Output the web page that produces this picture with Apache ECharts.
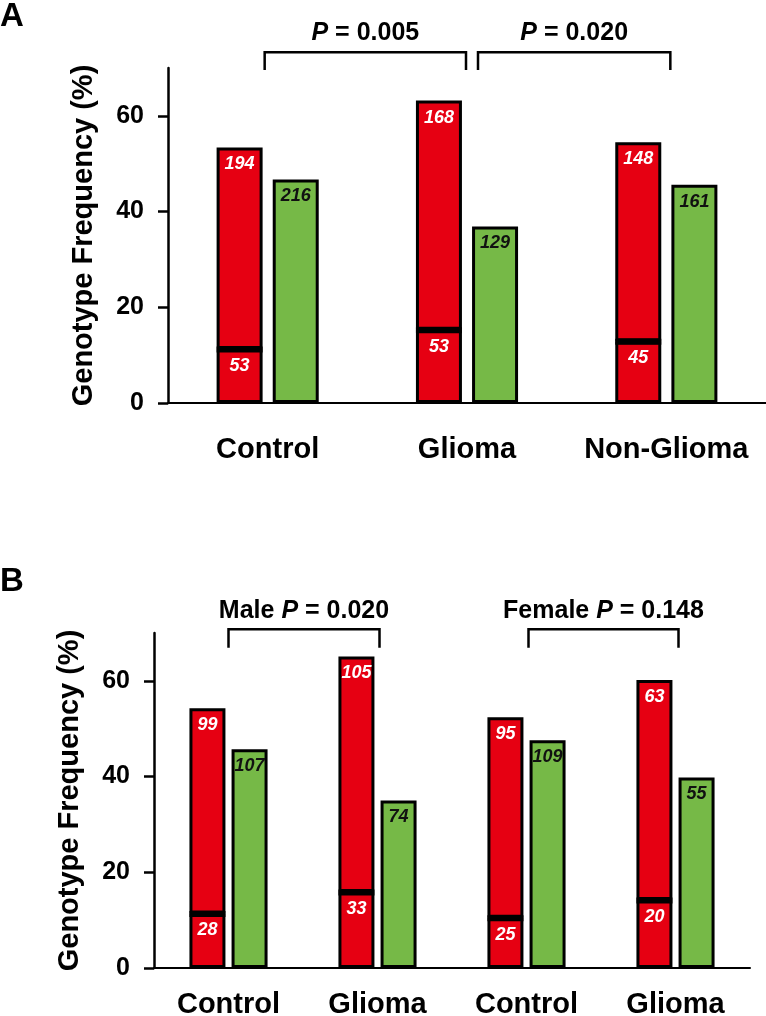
<!DOCTYPE html>
<html>
<head>
<meta charset="utf-8">
<script src="https://cdn.jsdelivr.net/npm/echarts@6/dist/echarts.min.js"></script>
<style>
  html, body { margin: 0; padding: 0; background: #fff; }
  #chart { width: 766px; height: 1016px; }
</style>
</head>
<body>
<div id="chart"></div>
<script>
const FONT = '"Liberation Sans", Arial, sans-serif';
const RED = '#e60012';
const GREEN = '#76b947';

// panel A
const aCategories = ['Control', 'Glioma', 'Non-Glioma'];
const aRedTotal = [53.4, 63.2, 54.5];
const aRedLow = [11.3, 15.3, 12.9];
const aGreen = [46.7, 36.9, 45.6];
const aLowN = [53, 53, 45];
const aHighN = [194, 168, 148];
const aGreenN = [216, 129, 161];

// panel B
const bCategories = ['Control', 'Glioma', 'Control', 'Glioma'];
const bRedTotal = [54.3, 65.1, 52.4, 60.2];
const bRedLow = [11.4, 15.9, 10.5, 14.2];
const bGreen = [45.7, 35.0, 47.6, 39.8];
const bLowN = [28, 33, 25, 20];
const bHighN = [99, 105, 95, 63];
const bGreenN = [107, 74, 109, 55];

const yTicks = [0, 20, 40, 60];

function barLabel(counts, color) {
  return {
    show: true,
    position: 'insideTop',
    distance: 8,
    color: color,
    fontSize: 18,
    fontWeight: 'bold',
    fontStyle: 'italic',
    fontFamily: FONT,
    formatter: (p) => String(counts[p.dataIndex])
  };
}

function panelSeries(idx, redLow, redTotal, green, lowN, highN, greenN, width, gap) {
  const base = {
    type: 'bar', xAxisIndex: idx, yAxisIndex: idx,
    barWidth: width, barGap: gap * 100 + '%', animation: false
  };
  const border = { borderColor: '#000', borderWidth: 3 };
  return [
    { ...base, stack: 'red' + idx, data: redLow,
      itemStyle: { color: RED, ...border }, label: barLabel(lowN, '#fff') },
    { ...base, stack: 'red' + idx, data: redTotal.map((v, i) => +(v - redLow[i]).toFixed(1)),
      itemStyle: { color: RED, ...border }, label: barLabel(highN, '#fff') },
    { ...base, stack: 'green' + idx, data: green,
      itemStyle: { color: GREEN, ...border }, label: barLabel(greenN, '#111') },
    // thick black divider between the two red segments
    {
      type: 'custom', xAxisIndex: idx, yAxisIndex: idx, z: 3, animation: false,
      data: redLow.map((v, i) => [i, v]),
      renderItem: (params, api) => {
        const p = api.coord([api.value(0), api.value(1)]);
        const cx = p[0] - width * (1 + gap) / 2;
        return {
          type: 'rect',
          shape: { x: cx - width / 2, y: p[1] - 2.5, width: width, height: 6 },
          style: { fill: '#000' }
        };
      }
    }
  ];
}

function xAxis(idx, data, margin) {
  return {
    type: 'category', gridIndex: idx, data: data,
    axisTick: { show: false },
    axisLine: { lineStyle: { color: '#000', width: 2 } },
    axisLabel: {
      interval: 0, hideOverlap: false,
      color: '#000', fontSize: 29, fontWeight: 'bold', fontFamily: FONT, margin: margin
    }
  };
}

function yAxis(idx) {
  return {
    type: 'value', gridIndex: idx, min: 0, max: 70, interval: 20,
    name: 'Genotype Frequency (%)',
    nameLocation: 'middle',
    nameGap: 70,
    nameTextStyle: { color: '#000', fontSize: 29, fontWeight: 'bold', fontFamily: FONT },
    splitLine: { show: false },
    axisLine: { show: true, lineStyle: { color: '#000', width: 2.5 } },
    axisTick: { show: true, length: 10, customValues: yTicks, lineStyle: { color: '#000', width: 2.5 } },
    axisLabel: { color: '#000', fontSize: 25, fontWeight: 'bold', fontFamily: FONT, margin: 24, customValues: yTicks }
  };
}

const option = {
  animation: false,
  textStyle: { fontFamily: FONT },
  grid: [
    { left: 168, top: 68, width: 598, height: 335, outerBoundsMode: 'none' },
    { left: 154, top: 633, width: 596, height: 335, outerBoundsMode: 'none' }
  ],
  xAxis: [xAxis(0, aCategories, 32), xAxis(1, bCategories, 22)],
  yAxis: [yAxis(0), yAxis(1)],
  series: [
    ...panelSeries(0, aRedLow, aRedTotal, aGreen, aLowN, aHighN, aGreenN, 46, 0.22),
    ...panelSeries(1, bRedLow, bRedTotal, bGreen, bLowN, bHighN, bGreenN, 36, 0.17)
  ]
};

const chart = echarts.init(document.getElementById('chart'));
chart.setOption(option);

const px = (g, cat, v) => chart.convertToPixel({ gridIndex: g }, [cat, v]);

function bracket(g, c1, c2, dx1, dx2, yTop, yLeg, yText, label) {
  const x1 = px(g, c1, yTop)[0] + dx1;
  const x2 = px(g, c2, yTop)[0] + dx2;
  const top = px(g, c1, yTop)[1];
  const leg = px(g, c1, yLeg)[1];
  const ty = px(g, c1, yText)[1];
  return [
    {
      type: 'polyline',
      shape: { points: [[x1, leg], [x1, top], [x2, top], [x2, leg]] },
      style: { stroke: '#000', lineWidth: 2.5, fill: null }
    },
    {
      type: 'text',
      x: (x1 + x2) / 2, y: ty,
      style: {
        text: label,
        align: 'center', verticalAlign: 'middle',
        fontSize: 25, fontWeight: 'bold', fontFamily: FONT, fill: '#000',
        rich: {
          i: { fontSize: 25, fontWeight: 'bold', fontStyle: 'italic', fontFamily: FONT, fill: '#000' },
          n: { fontSize: 25, fontWeight: 'bold', fontFamily: FONT, fill: '#000' }
        }
      }
    }
  ];
}

const panelLetter = (t, top) => ({
  type: 'text', left: 0, top: top,
  style: { text: t, fontSize: 33, fontWeight: 'bold', fontFamily: FONT, fill: '#000' }
});

chart.setOption({
  graphic: [
    panelLetter('A', 0),
    panelLetter('B', 565),
    ...bracket(0, 0, 1, -3, -1, 73.3, 69.6, 77.3, '{i|P}{n| = 0.005}'),
    ...bracket(0, 1, 2, 11, 4, 73.3, 69.6, 77.3, '{i|P}{n| = 0.020}'),
    ...bracket(1, 0, 1, 0, 2, 70.8, 66.9, 74.6, '{n|Male }{i|P}{n| = 0.020}'),
    ...bracket(1, 2, 3, 2, 3, 70.8, 66.9, 74.6, '{n|Female }{i|P}{n| = 0.148}')
  ]
});
</script>
</body>
</html>
